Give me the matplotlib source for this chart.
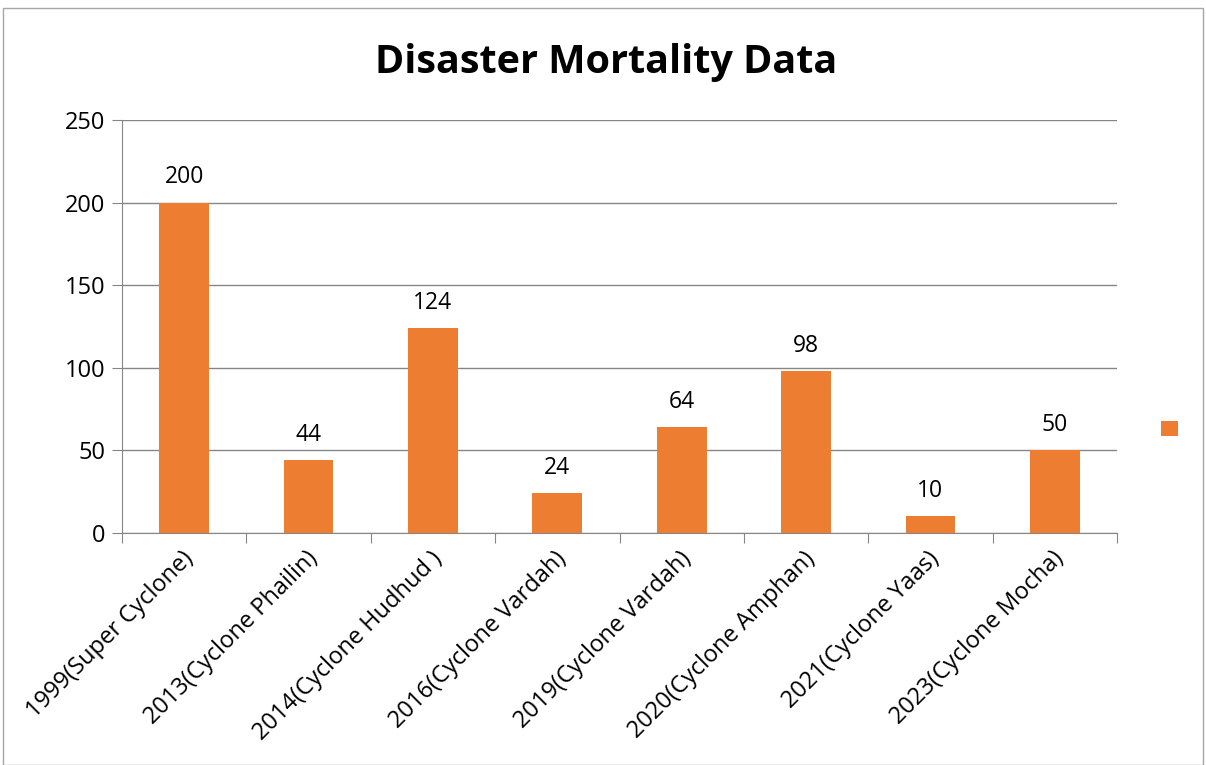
import matplotlib.pyplot as plt
from matplotlib.patches import Patch, Rectangle

# cyclone events and reported deaths
events = ['1999(Super Cyclone)', '2013(Cyclone Phailin)', '2014(Cyclone Hudhud )',
          '2016(Cyclone Vardah)', '2019(Cyclone Vardah)', '2020(Cyclone Amphan)',
          '2021(Cyclone Yaas)', '2023(Cyclone Mocha)']
deaths = [200, 44, 124, 24, 64, 98, 10, 50]
yticks = [0, 50, 100, 150, 200, 250]

orange = '#ED7D31'
grey = '#868686'

plt.rcParams['font.family'] = ['Open Sans', 'DejaVu Sans']

fig = plt.figure(figsize=(12.06, 7.65), dpi=100)
ax = fig.add_axes([0.1012, 0.3033, 0.825, 0.5398])

x = range(len(events))
bars = ax.bar(x, deaths, width=0.4, color=orange, zorder=3)
for b, v in zip(bars, deaths):
    ax.text(b.get_x() + b.get_width() / 2, v + 8, str(v), ha='center', va='bottom',
            fontsize=16.5)

ax.set_xlim(-0.5, len(events) - 0.5)
ax.set_ylim(0, 250)
ax.set_yticks(yticks)
ax.tick_params(axis='y', labelsize=17, length=7, color=grey, pad=5)
ax.grid(axis='y', color=grey, linewidth=1, zorder=0)

# ticks on the category boundaries, labels at the centres
ax.set_xticks([i - 0.5 for i in range(len(events) + 1)])
ax.set_xticklabels([])
ax.tick_params(axis='x', length=7, color=grey)
for i, name in enumerate(events):
    ax.annotate(name, xy=(i, 0), xycoords=('data', 'axes fraction'),
                xytext=(4, -16), textcoords='offset points',
                rotation=45, rotation_mode='anchor', ha='right', va='center',
                fontsize=17)

for side in ['top', 'right']:
    ax.spines[side].set_visible(False)
for side in ['left', 'bottom']:
    ax.spines[side].set_color(grey)

fig.text(0.5025, 0.918, 'Disaster Mortality Data', ha='center', va='center',
         fontsize=28.5, fontweight='bold')

fig.legend(handles=[Patch(facecolor=orange)], labels=[''], loc='center',
           bbox_to_anchor=(0.976, 0.438), frameon=False,
           handlelength=0.85, handleheight=0.85, fontsize=14)

# chart area border
fig.patches.append(Rectangle((3 / 1206, 0), 1 - 6 / 1206, 1 - 8 / 765,
                             transform=fig.transFigure, fill=False,
                             edgecolor='#A6A6A6', linewidth=1))

fig.savefig('out.png', dpi=100)
